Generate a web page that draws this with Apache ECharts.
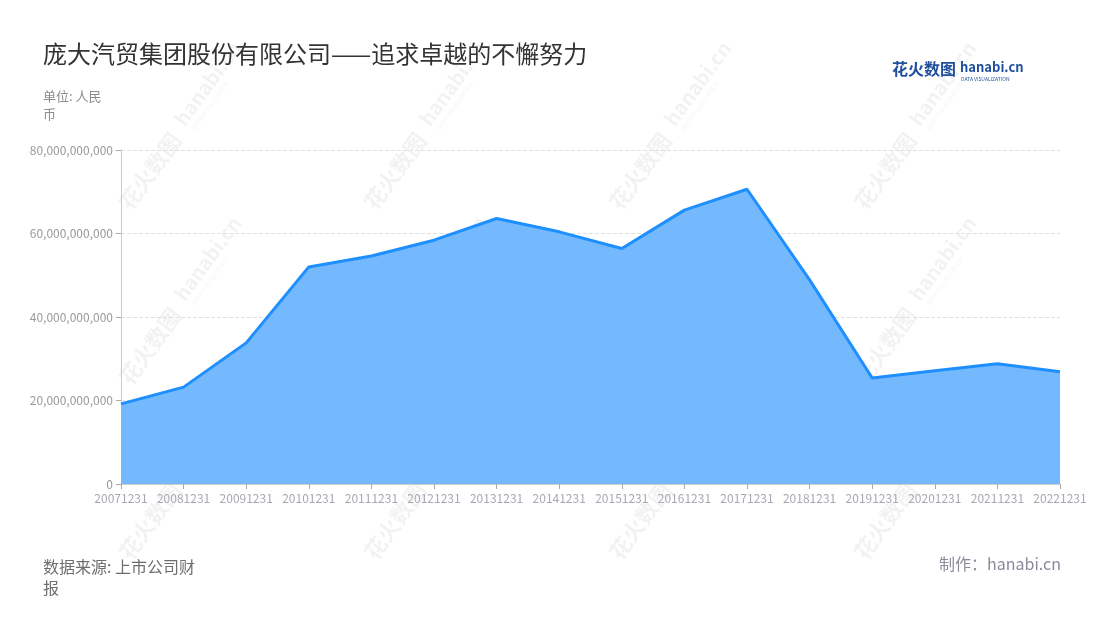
<!DOCTYPE html>
<html><head><meta charset="utf-8">
<script src="https://cdn.jsdelivr.net/npm/echarts@6/dist/echarts.min.js"></script>
<style>html,body{margin:0;padding:0;background:#fff}#c{width:1100px;height:620px}</style>
</head><body><div id="c"></div>
<script>
const categories = ['20071231','20081231','20091231','20101231','20111231','20121231','20131231','20141231','20151231','20161231','20171231','20181231','20191231','20201231','20211231','20221231'];
const revenue = [19.2e9, 23.2e9, 33.8e9, 52.0e9, 54.6e9, 58.4e9, 63.6e9, 60.4e9, 56.4e9, 65.6e9, 70.6e9, 48.9e9, 25.4e9, 27.1e9, 28.8e9, 26.9e9];
const yTicks = [0, 20e9, 40e9, 60e9, 80e9];

const font = '"Noto Sans CJK SC","Noto Sans",sans-serif';
const wm = [];
const cols = [180, 425, 670, 915];
const rows = [130, 305, 480];
cols.forEach(cx => rows.forEach(cy => {
  wm.push({
    type: 'group', x: cx, y: cy, rotation: Math.PI * 0.3, z: 100, silent: true,
    children: [
      {type:'text', style:{text:'花火数图', x:-95, y:0, fill:'rgba(0,0,0,0.05)', font:'bold 22px ' + font, textVerticalAlign:'middle'}},
      {type:'text', style:{text:'hanabi.cn', x:5, y:-5, fill:'rgba(0,0,0,0.05)', font:'bold 20px ' + font, textVerticalAlign:'middle'}},
      {type:'text', style:{text:'DATA VISUALIZATION', x:8, y:10, fill:'rgba(0,0,0,0.05)', font:'6px ' + font, textVerticalAlign:'middle'}}
    ]
  });
}));

const chart = echarts.init(document.getElementById('c'));
chart.setOption({
  animation: false,
  title: {
    text: '庞大汽贸集团股份有限公司——追求卓越的不懈努力',
    left: 38, top: 37,
    textStyle: {fontSize: 24, fontWeight: 'normal', color: '#333', fontFamily: font}
  },
  graphic: wm.concat([
    {type:'text', left: 43, top: 87, style:{text:'单位: 人民\n币', fill:'#8c8c8c', font:'13px ' + font, lineHeight: 18}},
    {type:'text', left: 43, top: 556, style:{text:'数据来源: 上市公司财\n报', fill:'#6e6e6e', font:'16px ' + font, lineHeight: 21}},
    {type:'text', right: 39, top: 556, style:{text:'制作：hanabi.cn', fill:'#8a8a9a', font:'16px ' + font}},
    {type:'text', left: 892, top: 61, style:{text:'花火数图', fill:'#1f4f9e', font:'bold 16px ' + font}},
    {type:'text', left: 960, top: 61, style:{text:'hanabi.cn', fill:'#1f4f9e', font:'bold 13px ' + font}},
    {type:'text', left: 961, top: 77, style:{text:'DATA VISUALIZATION', fill:'#1f4f9e', font:'5px ' + font}}
  ]),
  grid: {left: 121, right: 40, top: 150, bottom: 136},
  xAxis: {
    type: 'category', data: categories, boundaryGap: false,
    axisLine: {lineStyle: {color: '#ccc'}},
    axisTick: {show: true, alignWithLabel: true, lineStyle: {color: '#aaa'}},
    axisLabel: {interval: 0, color: '#a8a8b4', fontSize: 12, fontFamily: font, margin: 8}
  },
  yAxis: {
    type: 'value', min: 0, max: 80e9, interval: 20e9,
    axisLine: {show: true, lineStyle: {color: '#ccc'}},
    axisTick: {show: true, lineStyle: {color: '#aaa'}},
    splitLine: {lineStyle: {type: 'dashed', color: '#e0e0e0'}},
    axisLabel: {color: '#999', fontSize: 12, fontFamily: font, formatter: v => yTicks.includes(v) ? v.toLocaleString('en-US') : ''}
  },
  series: [{
    type: 'line', data: revenue, symbol: 'none',
    lineStyle: {color: '#1e8fff', width: 3},
    areaStyle: {color: '#74b8fe', opacity: 1}
  }]
});
</script></body></html>
